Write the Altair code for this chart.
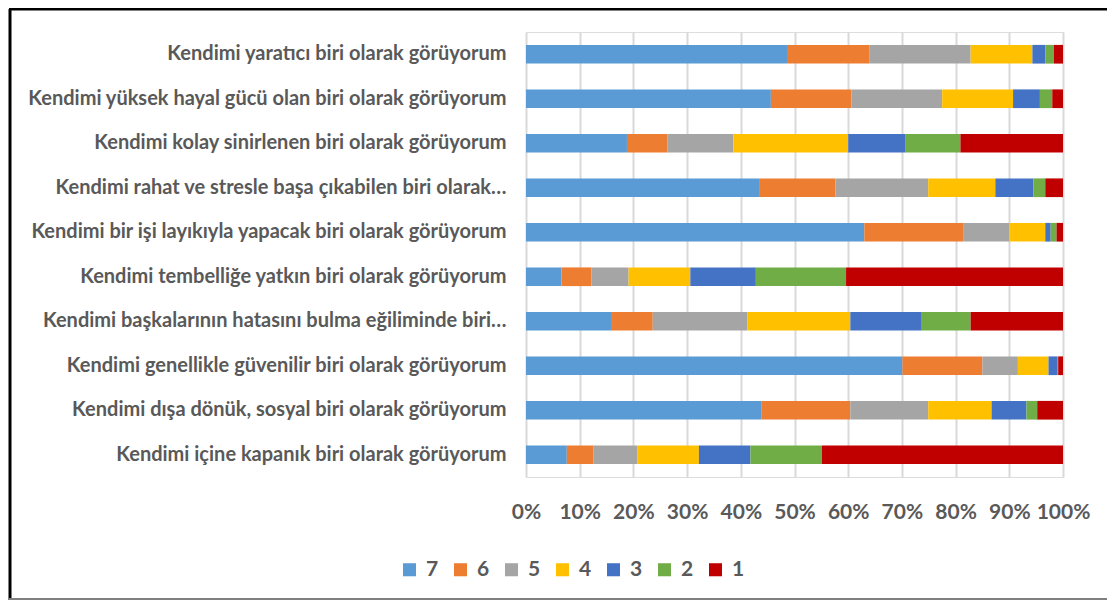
import altair as alt
import pandas as pd

categories = [
    "Kendimi yaratıcı biri olarak görüyorum",
    "Kendimi yüksek hayal gücü olan biri olarak görüyorum",
    "Kendimi kolay sinirlenen biri olarak görüyorum",
    "Kendimi rahat ve stresle başa çıkabilen biri olarak…",
    "Kendimi bir işi layıkıyla yapacak biri olarak görüyorum",
    "Kendimi tembelliğe yatkın biri olarak görüyorum",
    "Kendimi başkalarının hatasını bulma eğiliminde biri…",
    "Kendimi genellikle güvenilir biri olarak görüyorum",
    "Kendimi dışa dönük, sosyal biri olarak görüyorum",
    "Kendimi içine kapanık biri olarak görüyorum",
]

series_names = ["7", "6", "5", "4", "3", "2", "1"]
series_colors = ["#5B9BD5", "#ED7D31", "#A5A5A5", "#FFC000", "#4472C4", "#70AD47", "#C00000"]

s7 = [48.6, 45.6, 18.8, 43.4, 63.0, 6.6, 16.0, 70.1, 43.9, 7.6]
s6 = [15.4, 15.0, 7.5, 14.2, 18.4, 5.6, 7.6, 14.9, 16.5, 5.0]
s5 = [18.8, 16.9, 12.3, 17.3, 8.6, 6.9, 17.6, 6.6, 14.5, 8.1]
s4 = [11.5, 13.2, 21.4, 12.5, 6.7, 11.5, 19.2, 5.7, 11.8, 11.5]
s3 = [2.4, 5.0, 10.7, 7.1, 1.0, 12.2, 13.3, 1.6, 6.5, 9.6]
s2 = [1.6, 2.3, 10.2, 2.2, 1.1, 16.8, 9.1, 0.2, 2.0, 13.3]
s1 = [1.7, 2.0, 19.1, 3.3, 1.2, 40.4, 17.2, 0.9, 4.8, 44.9]

x_ticks = [0, 0.1, 0.2, 0.3, 0.4, 0.5, 0.6, 0.7, 0.8, 0.9, 1.0]

all_series = [s7, s6, s5, s4, s3, s2, s1]
rows = []
for k, (name, vals) in enumerate(zip(series_names, all_series)):
    for cat, v in zip(categories, vals):
        rows.append({"cat": cat, "series": name, "value": v, "ord": k})
df = pd.DataFrame(rows)

FONT = "Lato"
GRAY = "#595959"

bars = alt.Chart(df).mark_bar().encode(
    y=alt.Y(
        "cat:N",
        sort=categories,
        title=None,
        scale=alt.Scale(paddingInner=0.58, paddingOuter=0.29),
        axis=alt.Axis(
            domain=False,
            ticks=False,
            labelLimit=0,
            labelPadding=20,
            labelFont=FONT,
            labelFontSize=20,
            labelFontWeight="bold",
            labelColor=GRAY,
            grid=False,
        ),
    ),
    x=alt.X(
        "value:Q",
        stack="normalize",
        title=None,
        scale=alt.Scale(domain=[0, 1], nice=False),
        axis=alt.Axis(
            values=x_ticks,
            format=".0%",
            domain=False,
            ticks=False,
            grid=True,
            gridColor="#D9D9D9",
            gridWidth=2,
            labelOverlap=False,
            labelFlush=False,
            labelPadding=24,
            labelFont=FONT,
            labelFontSize=21,
            labelFontWeight="bold",
            labelColor=GRAY,
        ),
    ),
    color=alt.Color(
        "series:N",
        scale=alt.Scale(domain=series_names, range=series_colors),
        legend=alt.Legend(
            title=None,
            orient="none",
            direction="horizontal",
            legendX=-127,
            legendY=527,
            symbolType="square",
            symbolSize=170,
            symbolStrokeWidth=0,
            labelFont=FONT,
            labelFontSize=21,
            labelFontWeight="bold",
            labelColor=GRAY,
            labelOffset=6,
            columnPadding=11,
        ),
    ),
    order=alt.Order("ord:Q", sort="ascending"),
)

frame_data = alt.Data(values=[{"a": 1}])
left_line = alt.Chart(frame_data).mark_rule(color="black", strokeWidth=3).encode(
    x=alt.value(-516), y=alt.value(-23), y2=alt.value(568)
)
top_line = alt.Chart(frame_data).mark_rule(color="black", strokeWidth=3).encode(
    x=alt.value(-517), x2=alt.value(590), y=alt.value(-23)
)
bottom_line = alt.Chart(frame_data).mark_rule(color="#808080", strokeWidth=2).encode(
    x=alt.value(-517), x2=alt.value(590), y=alt.value(567)
)

chart = alt.layer(bars, left_line, top_line, bottom_line).properties(
    width=537,
    height=445,
    autosize=alt.AutoSizeParams(type="none"),
    padding={"left": 518, "top": 24, "right": 44, "bottom": 124},
).configure_view(stroke=None).configure(background="white")

chart.save("out.html", embed_options={"renderer": "svg", "actions": False})
